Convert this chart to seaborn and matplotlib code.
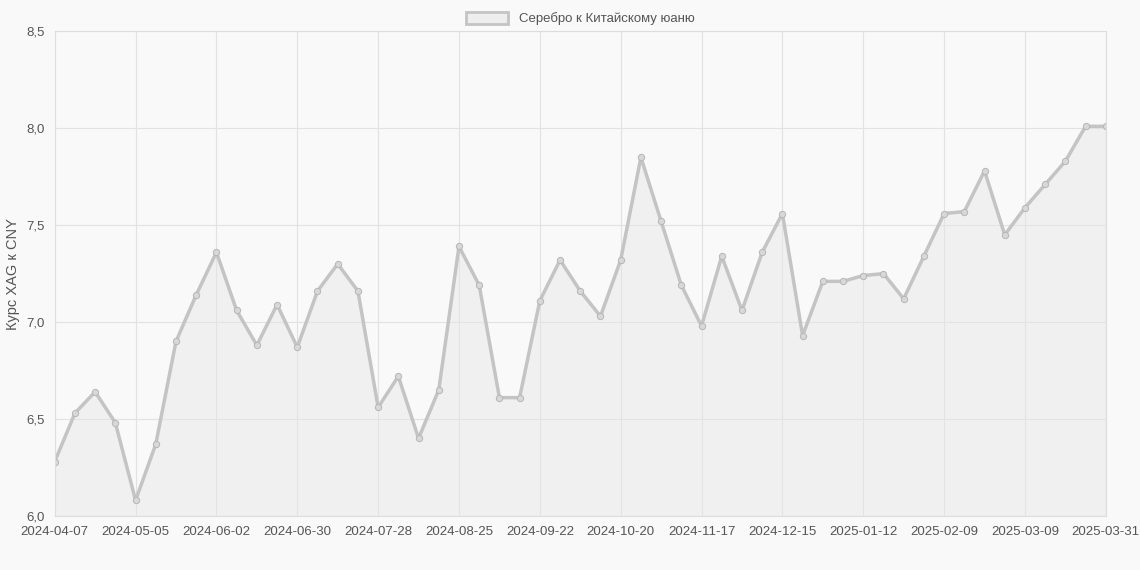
import matplotlib
matplotlib.use('Agg')
import matplotlib.pyplot as plt
import matplotlib.patches as mpatches
import seaborn as sns
import pandas as pd
import numpy as np

dates = list(pd.date_range("2024-04-07", "2025-03-30", freq="7D").strftime("%Y-%m-%d")) + ["2025-03-31"]
values = [6.28, 6.53, 6.64, 6.48, 6.08, 6.37, 6.90, 7.14, 7.36, 7.06,
          6.88, 7.09, 6.87, 7.16, 7.30, 7.16, 6.56, 6.72, 6.40, 6.65,
          7.39, 7.19, 6.61, 6.61, 7.11, 7.32, 7.16, 7.03, 7.32, 7.85,
          7.52, 7.19, 6.98, 7.34, 7.06, 7.36, 7.56, 6.93, 7.21, 7.21,
          7.24, 7.25, 7.12, 7.34, 7.56, 7.57, 7.78, 7.45, 7.59, 7.71,
          7.83, 8.01, 8.01]
label = "Серебро к Китайскому юаню"

df = pd.DataFrame({"idx": np.arange(len(dates)), "date": dates, "value": values})

sns.set_style("whitegrid")
plt.rcParams['font.family'] = ['Liberation Sans', 'DejaVu Sans']
fig, ax = plt.subplots(figsize=(11.4, 5.7), dpi=100)
fig.patch.set_facecolor("#f9f9f9")
ax.set_facecolor("#f9f9f9")

ax.fill_between(df["idx"], 6.0, df["value"], color="#e6e6e6", alpha=0.45, zorder=1)
sns.lineplot(data=df, x="idx", y="value", ax=ax, color="#c4c4c4", linewidth=2.5,
             marker="o", markersize=4.5, markerfacecolor="#d8d8d8", markeredgecolor="#b8b8b8",
             legend=False, zorder=2)

ticks = list(range(0, len(dates) - 1, 4)) + [len(dates) - 1]
ax.set_xticks(ticks)
ax.set_xticklabels([dates[i] for i in ticks], fontsize=9.5, color="#555555")
ax.set_xlim(0, len(dates) - 1)
ax.set_ylim(6.0, 8.5)
ax.set_yticks([6.0, 6.5, 7.0, 7.5, 8.0, 8.5])
ax.set_yticklabels(["6,0", "6,5", "7,0", "7,5", "8,0", "8,5"], fontsize=9.5, color="#555555")
ax.set_xlabel("")
ax.set_ylabel("Курс XAG к CNY", fontsize=10.5, color="#555555")
ax.grid(color="#e2e2e2", linewidth=0.8)
for s in ax.spines.values():
    s.set_color("#dddddd")
ax.tick_params(length=4, color="#dddddd")

handle = mpatches.Patch(facecolor="#eeeeee", edgecolor="#c4c4c4", linewidth=2, label=label)
ax.legend(handles=[handle], loc="upper center", bbox_to_anchor=(0.5, 1.065), frameon=False,
          fontsize=9.5, handlelength=3.2, handleheight=1.0, labelcolor="#555555")

plt.subplots_adjust(left=0.048, right=0.97, top=0.945, bottom=0.095)
plt.savefig("out.png", dpi=100, facecolor=fig.get_facecolor())
